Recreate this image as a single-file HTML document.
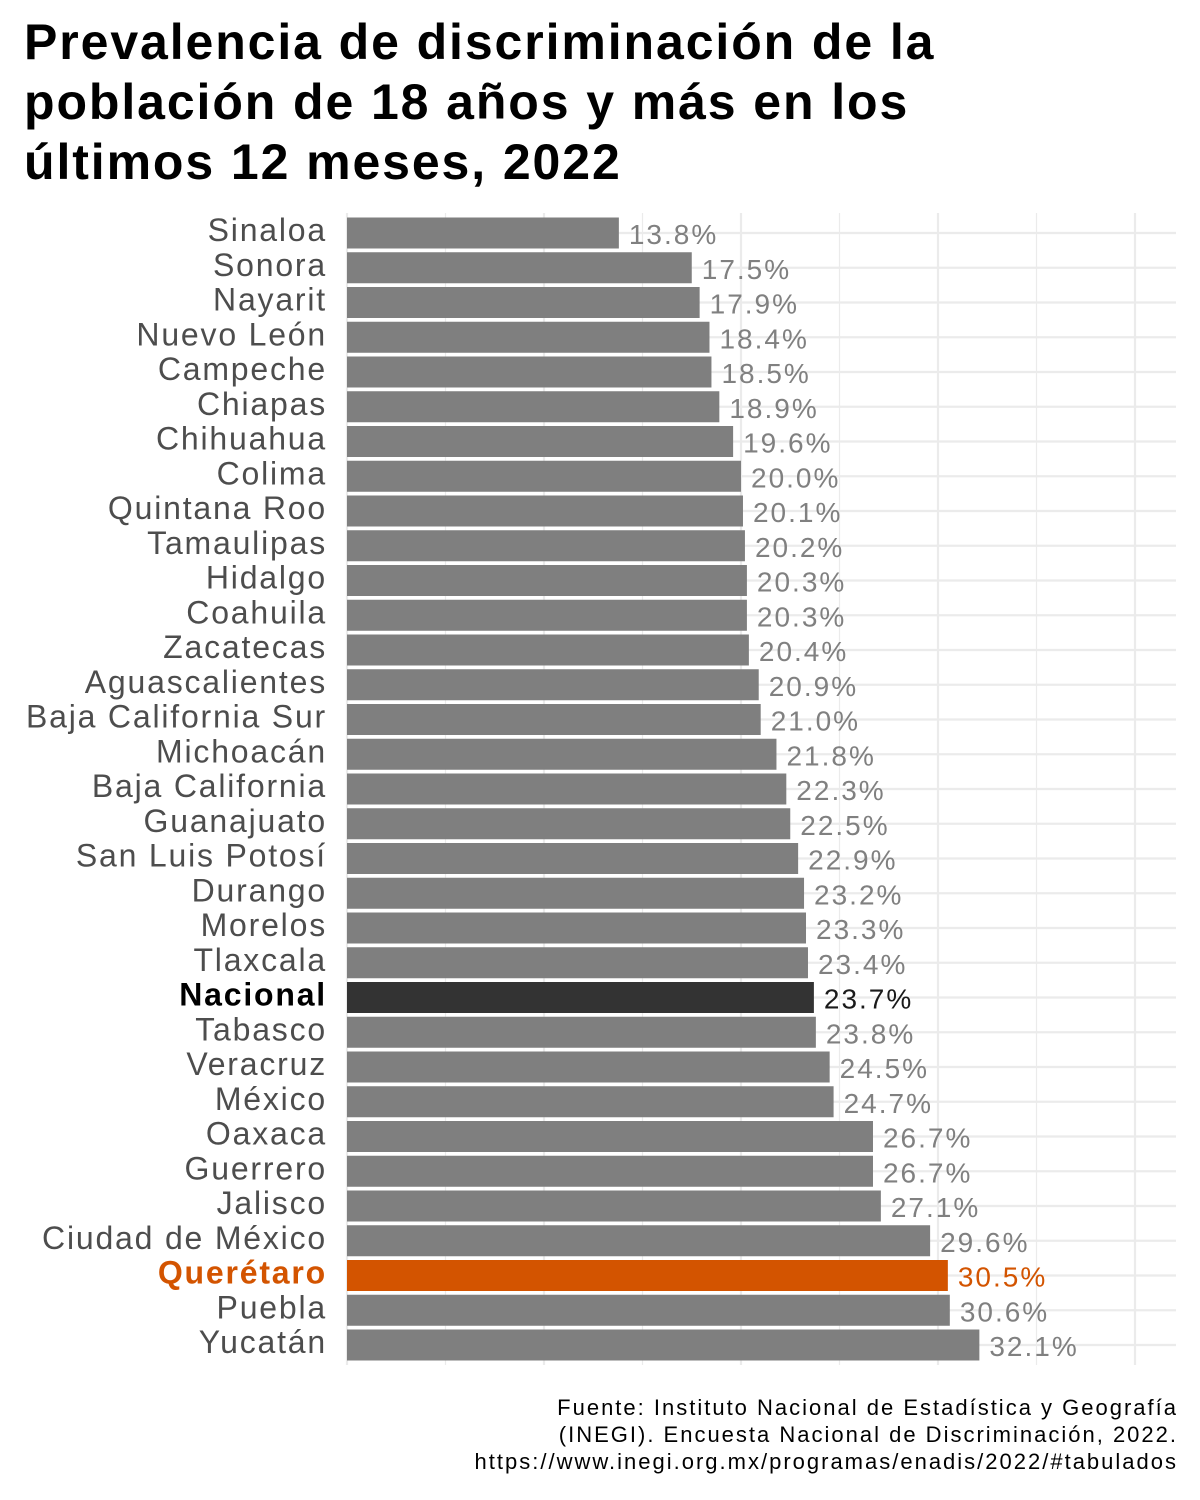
<!DOCTYPE html>
<html><head><meta charset="utf-8">
<style>
body{margin:0;background:#fff;width:1200px;height:1500px;overflow:hidden;font-family:"Liberation Sans",sans-serif;}
#title{position:absolute;left:24px;top:12px;font-weight:bold;font-size:50px;line-height:60px;color:#000;margin:0;letter-spacing:1.9px;}
#caption{position:absolute;right:22px;top:1394px;text-align:right;font-size:22px;line-height:27px;color:#000;letter-spacing:2px;}
svg{position:absolute;left:0;top:0;}
</style></head><body>
<h1 id="title">Prevalencia de discriminación de la<br>población de 18 años y más en los<br>últimos 12 meses, 2022</h1>
<svg id="chart" width="1200" height="1500"></svg>
<div id="caption">Fuente: Instituto Nacional de Estadística y Geografía<br>(INEGI). Encuesta Nacional de Discriminación, 2022.<br>https://www.inegi.org.mx/programas/enadis/2022/#tabulados</div>
<script>
const categories=["Sinaloa","Sonora","Nayarit","Nuevo León","Campeche","Chiapas","Chihuahua","Colima","Quintana Roo","Tamaulipas","Hidalgo","Coahuila","Zacatecas","Aguascalientes","Baja California Sur","Michoacán","Baja California","Guanajuato","San Luis Potosí","Durango","Morelos","Tlaxcala","Nacional","Tabasco","Veracruz","México","Oaxaca","Guerrero","Jalisco","Ciudad de México","Querétaro","Puebla","Yucatán"];
const values=[13.8,17.5,17.9,18.4,18.5,18.9,19.6,20.0,20.1,20.2,20.3,20.3,20.4,20.9,21.0,21.8,22.3,22.5,22.9,23.2,23.3,23.4,23.7,23.8,24.5,24.7,26.7,26.7,27.1,29.6,30.5,30.6,32.1];
const gridTicks=[0,5,10,15,20,25,30,35,40];
const NS="http://www.w3.org/2000/svg";
const svg=document.getElementById('chart');
const x0=347,pxPer=19.7,xRight=1176,yTop=213,yBot=1365,y0=233,step=34.75,bh=31;
const xs=v=>x0+v*pxPer;
const ys=i=>y0+i*step;
function mk(t,a){const e=document.createElementNS(NS,t);for(const k in a)e.setAttribute(k,a[k]);svg.appendChild(e);return e;}
gridTicks.forEach(t=>{
  const l=mk('line',{x1:xs(t),x2:xs(t),y1:yTop,y2:yBot,stroke:'#ebebeb','stroke-width':t%10===0?2.2:1.2});
  
  
});
categories.forEach((c,i)=>{
  const l=mk('line',{x1:x0,x2:xRight,y1:ys(i),y2:ys(i),stroke:'#ebebeb','stroke-width':2.2});
  
  
});
categories.forEach((c,i)=>{
  const v=values[i];
  const isN=c==="Nacional",isQ=c==="Querétaro";
  const fill=isN?'#333333':isQ?'#d35400':'#7f7f7f';
  const r=mk('rect',{x:x0,y:ys(i)-bh/2,width:xs(v)-x0,height:bh,fill:fill});
  
  
  const lab=mk('text',{x:327,y:ys(i)+8,'text-anchor':'end','font-size':32,'letter-spacing':'1.8px',fill:isN?'#000':isQ?'#d35400':'#4d4d4d','font-weight':(isN||isQ)?'bold':'normal'});
  lab.textContent=c;
  
  
  const vl=mk('text',{x:xs(v)+10,y:ys(i)+11,'font-size':28,'letter-spacing':'2px',fill:isN?'#1a1a1a':isQ?'#d35400':'#808080'});
  vl.textContent=v.toFixed(1)+'%';
  
  
});
</script>
</body></html>
